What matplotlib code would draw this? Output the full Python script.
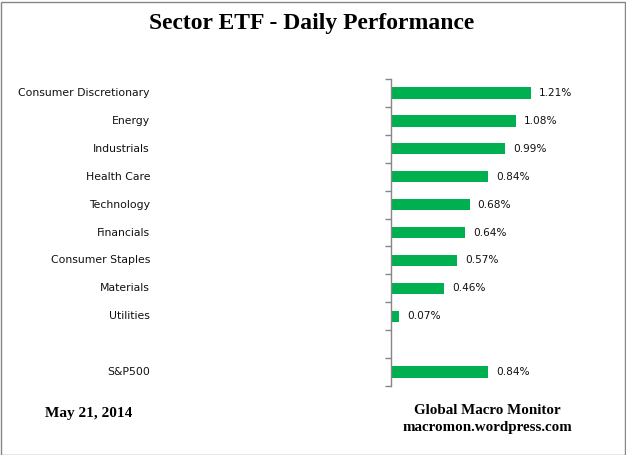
import matplotlib
matplotlib.use("Agg")
import matplotlib.pyplot as plt
from matplotlib.patches import Rectangle
import matplotlib.transforms as mtransforms

# data (blank row separates sectors from the index)
sectors = ["Consumer Discretionary", "Energy", "Industrials", "Health Care",
           "Technology", "Financials", "Consumer Staples", "Materials",
           "Utilities", "", "S&P500"]
perf = [1.21, 1.08, 0.99, 0.84, 0.68, 0.64, 0.57, 0.46, 0.07, None, 0.84]
value_labels = ["1.21%", "1.08%", "0.99%", "0.84%", "0.68%", "0.64%",
                "0.57%", "0.46%", "0.07%", "", "0.84%"]

W, H = 626, 455
fig = plt.figure(figsize=(W / 100, H / 100), dpi=100)
fig.patch.set_facecolor("white")

# plot area in pixel coords
ax = fig.add_axes([391 / W, 1 - 386 / H, (622 - 391) / W, (386 - 79) / H])

green = "#00B050"
for i, v in enumerate(perf):
    if v is None:
        continue
    ax.barh(i, v, height=0.41, color=green)
    ax.annotate(value_labels[i], (v, i), xytext=(8, 0), textcoords="offset pixels",
                va="center", ha="left", fontsize=7.6, color="#111111")

ax.set_xlim(0, 2.0)
ax.set_ylim(len(sectors) - 0.5, -0.5)
ax.set_xticks([])
ax.set_yticks([])
ax.set_yticks([i - 0.5 for i in range(len(sectors) + 1)], minor=True)
ax.tick_params(axis="y", which="minor", length=4, width=1, color="#868686",
               direction="out", labelleft=False)
for s in ["top", "right", "bottom"]:
    ax.spines[s].set_visible(False)
ax.spines["left"].set_color("#868686")
ax.spines["left"].set_linewidth(1)

# category labels, right aligned at x=150px
trans = mtransforms.blended_transform_factory(fig.transFigure, ax.transData)
for i, name in enumerate(sectors):
    if name:
        ax.text(150 / W, i, name, transform=trans, ha="right", va="center",
                fontsize=7.8, color="#111111")

serif = "Liberation Serif"
fig.text(312 / W, 1 - 23 / H, "Sector ETF - Daily Performance", ha="center",
         va="center", fontsize=17, fontweight="bold", family=serif)
fig.text(45 / W, 1 - 414 / H, "May 21, 2014", ha="left", va="center",
         fontsize=11, fontweight="bold", family=serif)
fig.text(487 / W, 1 - 410 / H, "Global Macro Monitor", ha="center", va="center",
         fontsize=10.8, fontweight="bold", family=serif)
fig.text(487 / W, 1 - 427 / H, "macromon.wordpress.com", ha="center", va="center",
         fontsize=10.8, fontweight="bold", family=serif)

# chart border
fig.patches.append(Rectangle((0.5 / W, 0.5 / H), (W - 2) / W, (H - 2) / H,
                             transform=fig.transFigure, fill=False,
                             edgecolor="#868686", linewidth=1))

fig.savefig("out.png", dpi=100)
